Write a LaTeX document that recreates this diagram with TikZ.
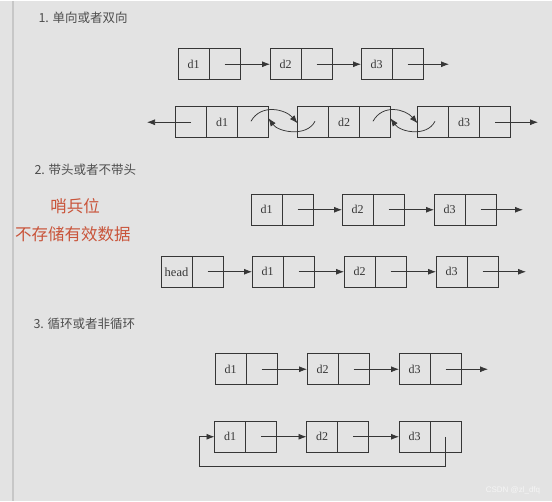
\documentclass[tikz,border=0pt]{standalone}
\usepackage{fontspec}
\setmainfont{Liberation Serif}
\newfontfamily\cjk{Noto Sans CJK SC}
\newfontfamily\wmfont{Liberation Sans}
\usetikzlibrary{positioning,arrows.meta}

\definecolor{bgcol}{HTML}{E3E3E3}
\definecolor{boxcol}{HTML}{363636}
\definecolor{titlecol}{HTML}{4E4E4E}
\definecolor{notecol}{HTML}{C9543A}

\tikzset{
  cell/.style={draw=boxcol, line width=0.8pt, minimum width=31pt, minimum height=31pt,
    inner sep=0pt, outer sep=0pt, text=boxcol, font=\fontsize{12}{12}\selectfont},
  link/.style={draw=boxcol, line width=0.75pt, -{Latex[length=8pt,width=6pt]}},
  title/.style={anchor=west, text=titlecol, font=\cjk\fontsize{12.5}{13}\selectfont},
  note/.style={text=notecol, font=\cjk\fontsize{16.5}{17}\selectfont},
}

\begin{document}
\begin{tikzpicture}[x=1pt,y=-1pt]
  % Background and page edge
  \fill[bgcol] (0,0) rectangle (552,500);
  \draw[black!22, line width=1.5pt] (13,0) -- (13,500);

  % Section titles
  \node[title] (t1) at (35,17) {1. 单向或者双向};
  \node[title] (t2) at (31,169) {2. 带头或者不带头};
  \node[title] (t3) at (30,323) {3. 循环或者非循环};

  % Sentinel note
  \node[note] (n1) at (75,205) {哨兵位};
  \node[note] (n2) at (73,233) {不存储有效数据};

  % Plain singly linked lists (rows 1, 3 and 5)
  \foreach \row/\y/\xa/\xb/\xc/\xe in {r1/63.5/193.5/285.5/376.5/449,
      r3/209/266.5/357.5/449.5/523, r5/368.5/230.5/322.5/414.5/488} {
    \foreach \i/\x in {1/\xa,2/\xb,3/\xc} {
      \node[cell] (\row-d\i) at (\x,\y) {d\i};
      \node[cell, right=0pt of \row-d\i] (\row-p\i) {};
    }
    \foreach \i/\j in {1/2,2/3}
      \draw[link] (\row-p\i.center) -- (\row-d\j.west);
    \coordinate (\row-end) at (\xe,\y);
    \draw[link] (\row-p3.center) -- (\row-end);
  }

  % Doubly linked list
  \foreach \i/\x in {1/191,2/313,3/433} {
    \node[cell] (dbl-p\i) at (\x,121.5) {};
    \node[cell, right=0pt of dbl-p\i] (dbl-d\i) {d\i};
    \node[cell, right=0pt of dbl-d\i] (dbl-n\i) {};
  }
  \coordinate (dbl-left) at (147,121.5);
  \coordinate (dbl-right) at (538,121.5);
  \draw[link] (dbl-p1.center) -- (dbl-left);
  \draw[link] (dbl-n3.center) -- (dbl-right);
  \foreach \i/\j in {1/2,2/3} {
    \draw[link] ([xshift=-2pt,yshift=1pt]dbl-n\i.center)
      .. controls +(10,-18) and +(-12,-14) .. ([yshift=-1pt]dbl-p\j.west);
    \draw[link] ([xshift=2pt,yshift=1pt]dbl-p\j.center)
      .. controls +(-8,16) and +(10,14) .. ([yshift=4pt]dbl-n\i.east);
  }

  % List with a head node
  \node[cell, font=\fontsize{12.5}{12}\selectfont] (hd) at (176.5,271) {head};
  \node[cell, right=0pt of hd] (hd-p) {};
  \foreach \i/\x in {1/267.5,2/359.5,3/451.5} {
    \node[cell] (h-d\i) at (\x,271) {d\i};
    \node[cell, right=0pt of h-d\i] (h-p\i) {};
  }
  \draw[link] (hd-p.center) -- (h-d1.west);
  \foreach \i/\j in {1/2,2/3}
    \draw[link] (h-p\i.center) -- (h-d\j.west);
  \coordinate (h-end) at (526,271);
  \draw[link] (h-p3.center) -- (h-end);

  % Circular list
  \foreach \i/\x in {1/230,2/322,3/414.5} {
    \node[cell] (c-d\i) at (\x,436) {d\i};
    \node[cell, right=0pt of c-d\i] (c-p\i) {};
  }
  \foreach \i/\j in {1/2,2/3}
    \draw[link] (c-p\i.center) -- (c-d\j.west);
  \coordinate (c-loop) at (199,466);
  \draw[link] (c-p3.center) |- (c-loop) |- (c-d1.west);

  % Watermark
  \node[text=white!92!gray, font=\wmfont\fontsize{8}{8}\selectfont] (wm) at (513,490) {CSDN @zl\_dfq};
\end{tikzpicture}
\end{document}
